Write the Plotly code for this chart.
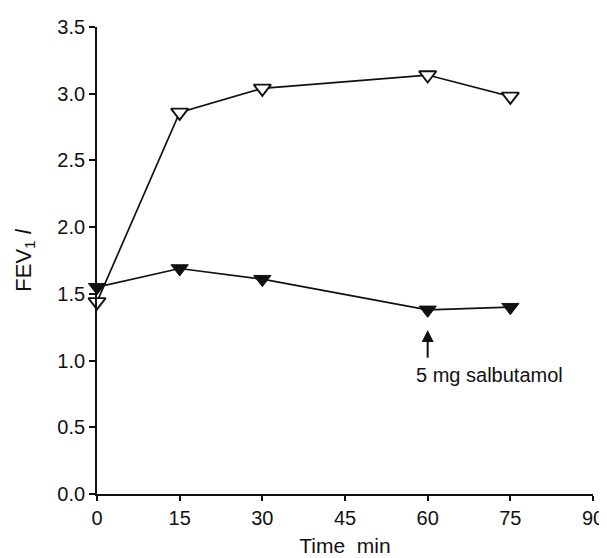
import plotly.graph_objects as go

time_min = [0, 15, 30, 60, 75]
fev_open = [1.44, 2.86, 3.04, 3.14, 2.98]
fev_filled = [1.55, 1.69, 1.61, 1.38, 1.40]
x_ticks = [0, 15, 30, 45, 60, 75, 90]
y_ticks = [0.0, 0.5, 1.0, 1.5, 2.0, 2.5, 3.0, 3.5]
y_tick_labels = ["0.0", "0.5", "1.0", "1.5", "2.0", "2.5", "3.0", "3.5"]

font_family = "Liberation Sans, Arial, sans-serif"
ink = "#111111"

fig = go.Figure()
fig.add_trace(go.Scatter(
    x=time_min, y=fev_open, mode="lines+markers", cliponaxis=False,
    line=dict(color=ink, width=1.7),
    marker=dict(symbol="triangle-down", size=15, color="white",
                line=dict(color=ink, width=1.9)),
    showlegend=False))
fig.add_trace(go.Scatter(
    x=time_min, y=fev_filled, mode="lines+markers", cliponaxis=False,
    line=dict(color=ink, width=1.7),
    marker=dict(symbol="triangle-down", size=15, color=ink,
                line=dict(color=ink, width=1)),
    showlegend=False))

# arrow and annotation
fig.add_annotation(x=60, y=1.23, ax=60, ay=1.01, xref="x", yref="y",
                   axref="x", ayref="y", showarrow=True, arrowhead=2,
                   arrowsize=1.2, arrowwidth=2, arrowcolor=ink, text="",
                   font=dict(size=12))
fig.add_annotation(x=71.3, y=0.89, xref="x", yref="y", showarrow=False,
                   text="5 mg salbutamol",
                   font=dict(family=font_family, size=20, color=ink))

fig.update_layout(
    width=607, height=558,
    margin=dict(l=89, r=22, t=19, b=72),
    plot_bgcolor="white", paper_bgcolor="white",
    font=dict(family=font_family, color=ink),
)
fig.update_xaxes(
    range=[0, 90], tickvals=x_ticks, ticks="outside", ticklen=5, tickwidth=1.6,
    tickcolor=ink, showline=True, linecolor=ink, linewidth=1.7,
    showgrid=False, zeroline=False, tickfont=dict(size=20), automargin=False,
    title=dict(text="Time  min", font=dict(size=21), standoff=10),
)
fig.update_yaxes(
    range=[0, 3.5], tickvals=y_ticks, ticktext=y_tick_labels, ticks="outside",
    ticklen=6, tickwidth=1.6, tickcolor=ink, showline=True,
    linecolor=ink, linewidth=1.7, showgrid=False, zeroline=False,
    tickfont=dict(size=20), automargin=False,
    title=dict(text="FEV<sub>1</sub> <i>l</i>", font=dict(size=22), standoff=20),
)

fig.write_html("out.html")
